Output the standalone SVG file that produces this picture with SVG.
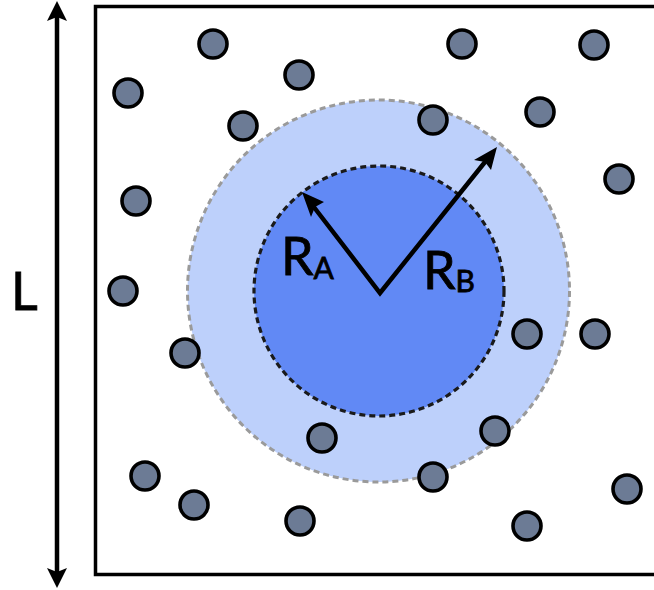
<svg xmlns="http://www.w3.org/2000/svg" width="654" height="590" viewBox="0 0 654 590">
<defs>
<style>
.dot{fill:#6c7b95;stroke:#000;stroke-width:3.6}
.lbl{font-family:Lato,"Open Sans","Liberation Sans",sans-serif;font-weight:400;fill:#000;stroke:#000;stroke-width:0.8}
.arr{stroke:#000;stroke-width:4.5;fill:none}
.head{fill:#000}
</style>
</defs>
<rect width="654" height="590" fill="#fff"/>
<rect id="box" x="95.5" y="6.5" width="570" height="568" fill="none" stroke="#000" stroke-width="3.5"/>
<g id="regionB">
<circle cx="378.5" cy="291" r="191" fill="#bdd0fb" stroke="#9a9a9a" stroke-width="3" stroke-dasharray="6,4"/>
</g>
<g id="regionA">
<circle cx="379" cy="291" r="125" fill="#6189f5" stroke="#1a1a1a" stroke-width="3.2" stroke-dasharray="6,4"/>
</g>
<g id="particles">
<circle class="dot" cx="213" cy="44" r="14"/>
<circle class="dot" cx="462" cy="44" r="14"/>
<circle class="dot" cx="594" cy="45" r="14"/>
<circle class="dot" cx="128" cy="93" r="14"/>
<circle class="dot" cx="299" cy="75" r="14"/>
<circle class="dot" cx="243" cy="126" r="14"/>
<circle class="dot" cx="433" cy="120" r="14"/>
<circle class="dot" cx="540" cy="112" r="14"/>
<circle class="dot" cx="136" cy="201" r="14"/>
<circle class="dot" cx="619" cy="179" r="14"/>
<circle class="dot" cx="123" cy="291" r="14"/>
<circle class="dot" cx="185" cy="353" r="14"/>
<circle class="dot" cx="527" cy="334" r="14"/>
<circle class="dot" cx="595" cy="334" r="14"/>
<circle class="dot" cx="322" cy="438" r="14"/>
<circle class="dot" cx="495" cy="431" r="14"/>
<circle class="dot" cx="145" cy="476" r="14"/>
<circle class="dot" cx="433" cy="477" r="14"/>
<circle class="dot" cx="194" cy="505" r="14"/>
<circle class="dot" cx="627" cy="489" r="14"/>
<circle class="dot" cx="300" cy="521" r="14"/>
<circle class="dot" cx="527" cy="526" r="14"/>
</g>
<g id="connectors">
<line class="arr" x1="57" y1="15" x2="57" y2="574"/>
<path class="head" d="M57,1 L67,21 L57,17 L47,21 Z"/>
<path class="head" d="M57,588 L67,568 L57,572 L47,568 Z"/>
<polyline class="arr" points="310,202 380,293 489,157" stroke-linejoin="miter"/>
<path class="head" d="M302,192 L324,202 L315,207 L311,217 Z"/>
<path class="head" d="M497,147 L491,170 L485,162 L474,160 Z"/>
</g>
<g id="labels">
<text class="lbl" x="11" y="310" font-size="52">L</text>
<text class="lbl" x="281" y="275" font-size="52">R<tspan font-size="30" dy="4">A</tspan></text>
<text class="lbl" x="423" y="289" font-size="52">R<tspan font-size="30" dy="3">B</tspan></text>
</g>
</svg>
